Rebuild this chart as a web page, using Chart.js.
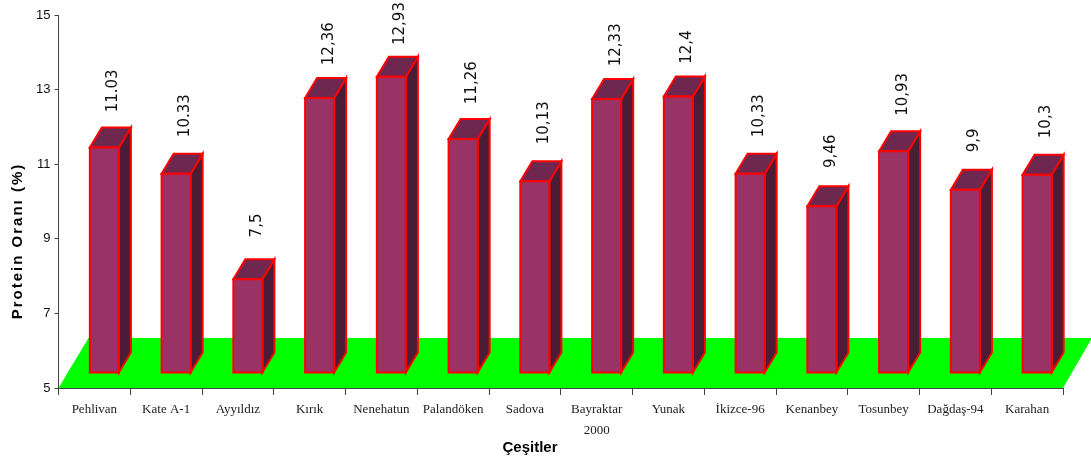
<!DOCTYPE html>
<html>
<head>
<meta charset="utf-8">
<script src="https://cdn.jsdelivr.net/npm/chart.js@4.4.0/dist/chart.umd.min.js"></script>
<style>
  html, body { margin: 0; padding: 0; background: #fff; }
  #wrap { width: 1091px; height: 461px; }
</style>
</head>
<body>
<div id="wrap"><canvas id="grafico-protein"></canvas></div>
<script>
const cesitler = ['Pehlivan', 'Kate A-1', 'Ayyıldız', 'Kırık', 'Nenehatun', 'Palandöken', 'Sadova',
  ['Bayraktar', '2000'], 'Yunak', 'İkizce-96', 'Kenanbey', 'Tosunbey', 'Dağdaş-94', 'Karahan'];
const proteinOrani = [11.03, 10.33, 7.5, 12.36, 12.93, 11.26, 10.13, 12.33, 12.4, 10.33, 9.46, 10.93, 9.9, 10.3];
const etiketler = ['11.03', '10.33', '7,5', '12,36', '12,93', '11,26', '10,13', '12,33', '12,4', '10,33', '9,46', '10,93', '9,9', '10,3'];
const yTicks = [5, 7, 9, 11, 13, 15];

// profundidade 3D
const PROF_X = 12, PROF_Y = 20;
const DESLOC_X = 10, DESLOC_Y = 15.5;

function poligono(ctx, pts, cor) {
  ctx.beginPath();
  ctx.moveTo(pts[0][0], pts[0][1]);
  for (let k = 1; k < pts.length; k++) ctx.lineTo(pts[k][0], pts[k][1]);
  ctx.closePath();
  ctx.fillStyle = cor;
  ctx.fill();
  ctx.stroke();
}

const barras3d = {
  id: 'barras3d',
  beforeDraw(chart) {
    // piso verde
    const { ctx, chartArea, scales: { y } } = chart;
    const base = y.getPixelForValue(5);
    ctx.save();
    ctx.fillStyle = '#00ff00';
    ctx.beginPath();
    ctx.moveTo(chartArea.left, base);
    ctx.lineTo(chartArea.right, base);
    ctx.lineTo(chartArea.right + 29, base - 50);
    ctx.lineTo(chartArea.left + 30, base - 50);
    ctx.closePath();
    ctx.fill();
    ctx.restore();
  },
  afterDatasetsDraw(chart) {
    const ctx = chart.ctx;
    const meta = chart.getDatasetMeta(0);
    const base = chart.scales.y.getPixelForValue(5);
    ctx.save();
    ctx.strokeStyle = '#ff0000';
    ctx.lineWidth = 2;
    ctx.lineJoin = 'miter';
    meta.data.forEach((bar, i) => {
      const w = bar.width;
      const x0 = bar.x + DESLOC_X - w / 2;
      const x1 = x0 + w;
      const topo = bar.y - DESLOC_Y;
      const fundo = base - DESLOC_Y;
      poligono(ctx, [[x1, topo], [x1 + PROF_X, topo - PROF_Y], [x1 + PROF_X, fundo - PROF_Y], [x1, fundo]], '#4b1c36');
      poligono(ctx, [[x0, topo], [x0 + PROF_X, topo - PROF_Y], [x1 + PROF_X, topo - PROF_Y], [x1, topo]], '#6e284f');
      poligono(ctx, [[x0, topo], [x1, topo], [x1, fundo], [x0, fundo]], '#993366');

      // rotulo de valor
      const yRotulo = base - 62 - 0.95 * (base - bar.y);
      ctx.save();
      ctx.translate(bar.x + 19, yRotulo);
      ctx.rotate(-Math.PI / 2);
      ctx.font = '15px "DejaVu Sans"';
      ctx.fillStyle = '#111';
      ctx.textAlign = 'left';
      ctx.textBaseline = 'middle';
      ctx.fillText(etiketler[i], 0, 0);
      ctx.restore();
    });
    ctx.restore();
  },
  afterDraw(chart) {
    const ctx = chart.ctx;
    ctx.save();
    ctx.fillStyle = '#000';
    ctx.font = 'bold 15px "Liberation Sans"';
    ctx.textAlign = 'center';
    ctx.textBaseline = 'middle';
    ctx.fillText('Çeşitler', 530, 448);
    ctx.translate(18, 241);
    ctx.rotate(-Math.PI / 2);
    ctx.letterSpacing = '2px';
    ctx.fillText('Protein Oranı (%)', 0, 0);
    ctx.restore();
  }
};

const ctxProtein = document.getElementById('grafico-protein').getContext('2d');

const graficoProtein = new Chart(ctxProtein, {
  type: 'bar',
  data: {
    labels: cesitler,
    datasets: [{
      label: 'Protein Oranı (%)',
      data: proteinOrani,
      backgroundColor: 'rgba(0,0,0,0)',
      borderWidth: 0,
      barPercentage: 0.405,
      categoryPercentage: 1
    }]
  },
  options: {
    responsive: true,
    maintainAspectRatio: false,
    animation: false,
    layout: {
      padding: { top: 15, right: 28, bottom: 0, left: 0 }
    },
    plugins: {
      legend: { display: false },
      tooltip: { enabled: false }
    },
    scales: {
      x: {
        grid: {
          offset: true,
          drawOnChartArea: false,
          drawTicks: true,
          tickLength: 7,
          color: '#444'
        },
        border: { display: true, color: '#444', width: 1 },
        ticks: {
          color: '#222',
          padding: 5,
          maxRotation: 0,
          autoSkip: false,
          font: { family: '"Liberation Serif"', size: 13, lineHeight: 1.55 }
        },
        afterFit(scale) { scale.height = 73; }
      },
      y: {
        min: 5,
        max: 15,
        afterBuildTicks(scale) { scale.ticks = yTicks.map(v => ({ value: v })); },
        grid: {
          drawOnChartArea: false,
          drawTicks: true,
          tickLength: 4,
          color: '#444'
        },
        border: { display: true, color: '#444', width: 1 },
        ticks: {
          color: '#111',
          padding: 4,
          font: { family: '"Liberation Sans"', size: 13 }
        },
        afterFit(scale) { scale.width = 58.5; }
      }
    }
  },
  plugins: [barras3d]
});
</script>
</body>
</html>
